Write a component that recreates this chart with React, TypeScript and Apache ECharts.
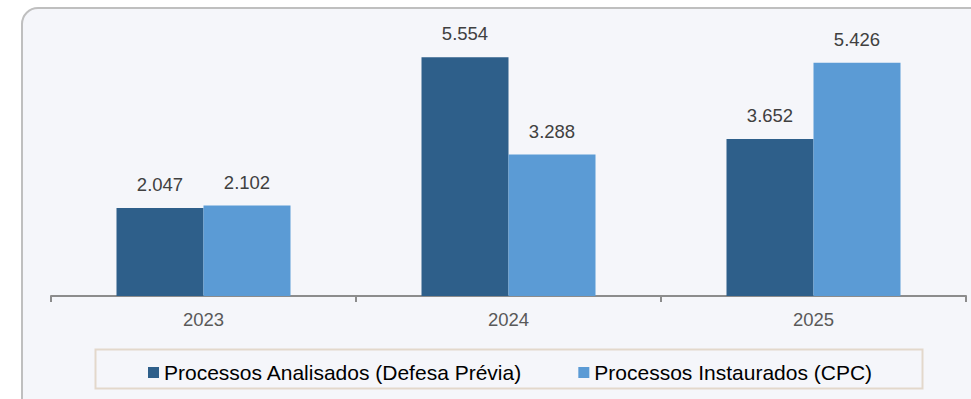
import React, { useEffect, useRef } from "react";
import * as echarts from "echarts";

const categories = ["2023", "2024", "2025"];
const analisados = [2047, 5554, 3652];
const instaurados = [2102, 3288, 5426];
const seriesNames = ["Processos Analisados (Defesa Prévia)", "Processos Instaurados (CPC)"];

const fmt = (v: number) => v.toLocaleString("pt-BR");

export default function App() {
  const ref = useRef<HTMLDivElement>(null);
  useEffect(() => {
    if (!ref.current) return;
    const chart = echarts.init(ref.current, null, { renderer: "svg" });
    const font = "'Liberation Sans', Arial, sans-serif";
    const label = {
      show: true,
      position: "top",
      distance: 14,
      color: "#404040",
      fontSize: 18.5,
      fontFamily: font,
      formatter: (p: any) => fmt(p.value),
    };
    chart.setOption({
      animation: false,
      backgroundColor: "#ffffff",
      textStyle: { fontFamily: font },
      graphic: [
        {
          type: "rect",
          z: -10,
          shape: { x: 22, y: 8, width: 1000, height: 450, r: 16 },
          style: { fill: "#f5f6fa", stroke: "#bfbfbf", lineWidth: 2 },
        },
        {
          type: "rect",
          z: -5,
          shape: { x: 95.5, y: 349.5, width: 827, height: 39 },
          style: { fill: "#f5f6fa", stroke: "#e3d8cb", lineWidth: 2 },
        },
      ],
      grid: { left: 51, right: 5, top: 38, bottom: 103 },
      xAxis: {
        type: "category",
        data: categories,
        axisLine: { lineStyle: { color: "#8c8c8c", width: 2 } },
        axisTick: { show: true, length: 6, lineStyle: { color: "#8c8c8c", width: 2 } },
        axisLabel: { color: "#595959", fontSize: 18.5, margin: 14, fontFamily: font },
      },
      yAxis: { type: "value", min: 0, max: 6000, show: false, splitLine: { show: false } },
      legend: {
        left: 143,
        top: 357,
        icon: "rect",
        itemWidth: 11,
        itemHeight: 11,
        itemGap: 56,
        itemTextGap: 6,
        textStyle: { color: "#000000", fontSize: 21, fontFamily: font },
        data: seriesNames,
      },
      series: [
        {
          name: seriesNames[0],
          type: "bar",
          data: analisados,
          barWidth: 87,
          barGap: "0%",
          itemStyle: { color: "#2e5f8a" },
          label,
        },
        {
          name: seriesNames[1],
          type: "bar",
          data: instaurados,
          barWidth: 87,
          barGap: "0%",
          itemStyle: { color: "#5b9bd5" },
          label,
        },
      ],
    });
    return () => chart.dispose();
  }, []);
  return (
    <div
      ref={ref}
      style={{ position: "fixed", left: 0, top: 0, width: 971, height: 399 }}
    />
  );
}
